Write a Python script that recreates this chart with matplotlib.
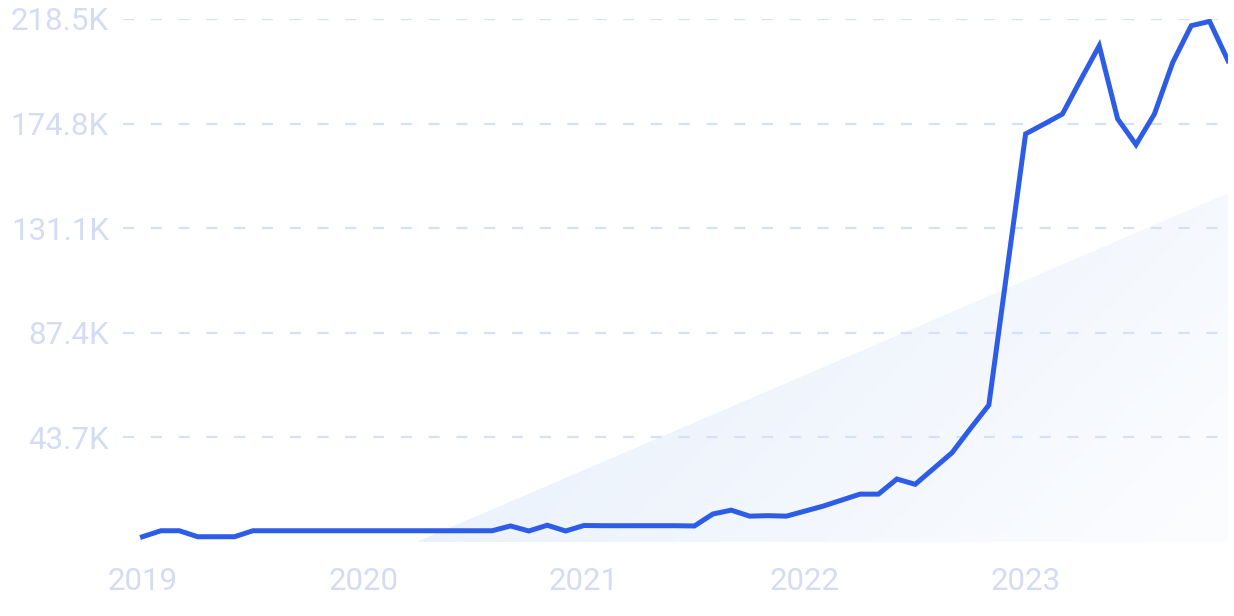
import numpy as np
import matplotlib
matplotlib.use('Agg')
import matplotlib.pyplot as plt
from matplotlib.colors import LinearSegmentedColormap

# monthly values, Jan 2019 .. Dec 2023 (in K)
values = [2.2, 4.7, 4.7, 2.2, 2.2, 2.2, 4.7, 4.7, 4.7, 4.7, 4.7, 4.7,
          4.7, 4.7, 4.7, 4.7, 4.7, 4.7, 4.7, 4.7, 6.7, 4.6, 7.0, 4.6,
          6.9, 6.8, 6.8, 6.8, 6.8, 6.8, 6.7, 11.7, 13.3, 10.8, 11.0, 10.8,
          12.9, 15.0, 17.5, 20.0, 20.0, 26.3, 24.1, 30.7, 37.3, 47.4, 57.2, 113.9,
          170.5, 174.6, 178.8, 193.2, 207.3, 176.8, 166.0, 178.8, 200.4, 215.7, 217.5, 201.1]
months = np.arange(len(values))

year_labels = ['2019', '2020', '2021', '2022', '2023']
year_ticks = [0, 12, 24, 36, 48]
y_ticks = [43.7, 87.4, 131.1, 174.8, 218.5]
y_labels = ['43.7K', '87.4K', '131.1K', '174.8K', '218.5K']

# linear trend (clipped at zero)
trend_start = -49.2
trend_end = 145.7

plt.rcParams['font.family'] = ['Roboto', 'DejaVu Sans']
label_color = '#d3dcf4'

fig = plt.figure(figsize=(12.34, 6.16), dpi=100)
ax = fig.add_axes([123/1234, 74/616, 1105/1234, 523/616])
ax.set_xlim(-1.06, 59)
ax.set_ylim(0, 218.5)

# trend shading with gradient
trend = np.linspace(trend_start, trend_end, 500)
tx = np.linspace(0, 59, 500)
trend = np.clip(trend, 0, None)
poly = ax.fill_between(tx, 0, trend, color='none', lw=0)
x0 = -trend_start / (trend_end - trend_start) * 59
gx, gy = np.meshgrid(np.linspace(0, 1, 300), np.linspace(0, 1, 200))
t = 0.7 * gx + 0.3 * (1 - gy)
cmap = LinearSegmentedColormap.from_list('fade', ['#e5eefb', '#fcfdff'])
img = ax.imshow(t, extent=[x0, 59, 0, trend_end], origin='lower', aspect='auto',
                cmap=cmap, vmin=0, vmax=1, zorder=1, interpolation='bilinear')
img.set_clip_path(poly.get_paths()[0], transform=ax.transData)

for v in y_ticks:
    ax.axhline(v, color='#d6e0f8', lw=1.6, linestyle=(0, (5, 7.5)), zorder=2)

ax.plot(months, values, color='#2d5ce6', lw=3.6, solid_joinstyle='miter', zorder=3)

ax.set_xticks(year_ticks)
ax.set_xticklabels(year_labels)
ax.set_yticks(y_ticks)
ax.set_yticklabels(y_labels)
ax.tick_params(axis='both', length=0, labelsize=22.5, labelcolor=label_color)
ax.tick_params(axis='y', pad=10)
ax.tick_params(axis='x', pad=18)
for s in ax.spines.values():
    s.set_visible(False)

fig.savefig('out.png', dpi=100)
